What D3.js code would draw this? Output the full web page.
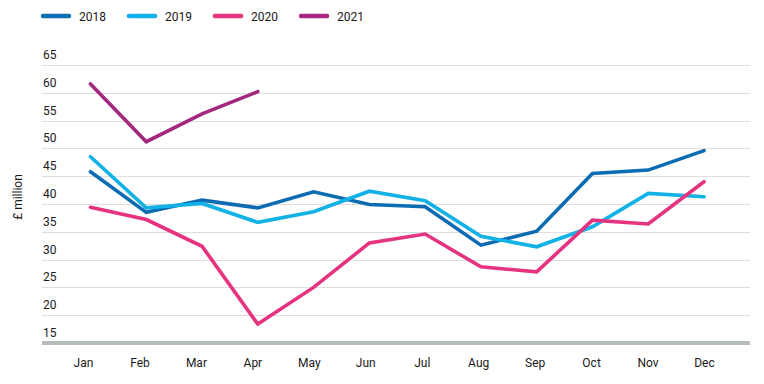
<!DOCTYPE html>
<html>
<head lang="en">
    <meta charset="UTF-8">
    <title>d3</title>
    <script src="https://cdn.jsdelivr.net/npm/d3@7"></script>
    <style>
        body { margin: 0; background: #fff; }
        svg text { font-family: Roboto, "Liberation Sans", sans-serif; fill: #1a1a1a; }
        .grid line { stroke: #dedede; stroke-width: 1; }
        .series { fill: none; stroke-width: 3.6; stroke-linejoin: miter; stroke-linecap: round; }
    </style>
</head>
<body>
<svg width="764" height="384"></svg>
<script>
    var months = ["Jan","Feb","Mar","Apr","May","Jun","Jul","Aug","Sep","Oct","Nov","Dec"];
    var years = ["2018","2019","2020","2021"];
    var colors = ["#0b6bb3","#12b1e6","#e6337f","#a3287f"];
    var v2018 = [45.8, 38.5, 40.7, 39.3, 42.2, 39.9, 39.5, 32.6, 35.1, 45.5, 46.1, 49.6];
    var v2019 = [48.5, 39.3, 40.1, 36.7, 38.6, 42.3, 40.6, 34.2, 32.3, 35.9, 41.9, 41.3];
    var v2020 = [39.4, 37.2, 32.4, 18.4, 25.0, 33.0, 34.6, 28.7, 27.8, 37.1, 36.4, 44.0];
    var v2021 = [61.6, 51.2, 56.2, 60.2];
    var yTicks = [15, 20, 25, 30, 35, 40, 45, 50, 55, 60, 65];

    var values = [v2018, v2019, v2020, v2021];

    var svg = d3.select("svg");

    var x = d3.scalePoint().domain(months).range([90.5, 704]);
    // month labels sit a little off the data points in the original
    var xLabels = d3.scalePoint().domain(months).range([83, 704]);
    var y = d3.scaleLinear().domain([15, 65]).range([343, 65]);

    // gridlines
    svg.append("g")
        .attr("class", "grid")
        .selectAll("line")
        .data(yTicks.slice(1))
        .enter()
        .append("line")
        .attr("x1", 42)
        .attr("x2", 750)
        .attr("y1", function (d) { return Math.round(y(d)) + 0.5; })
        .attr("y2", function (d) { return Math.round(y(d)) + 0.5; });

    // y tick labels, above their lines
    svg.append("g")
        .selectAll("text")
        .data(yTicks)
        .enter()
        .append("text")
        .attr("x", 43)
        .attr("y", function (d) { return y(d) - 6; })
        .attr("font-size", 12)
        .text(function (d) { return d; });

    // baseline
    svg.append("line")
        .attr("x1", 42)
        .attr("x2", 750)
        .attr("y1", y(15))
        .attr("y2", y(15))
        .attr("stroke", "#b5bcbb")
        .attr("stroke-width", 4);

    // x axis labels
    var xAxis = svg.append("g")
        .attr("transform", "translate(0," + 346 + ")")
        .call(d3.axisBottom(xLabels).tickSize(0).tickPadding(12));
    xAxis.select(".domain").remove();
    xAxis.selectAll("text")
        .attr("font-size", 12)
        .style("font-family", "Roboto, 'Liberation Sans', sans-serif")
        .attr("fill", "#1a1a1a");

    // y axis title
    svg.append("text")
        .attr("transform", "translate(22,197) rotate(-90)")
        .attr("text-anchor", "middle")
        .attr("font-size", 12)
        .text("£ million");

    // lines
    var line = d3.line()
        .x(function (d, i) { return x(months[i]); })
        .y(function (d) { return y(d); });

    svg.append("g")
        .selectAll("path")
        .data(values)
        .enter()
        .append("path")
        .attr("class", "series")
        .attr("stroke", function (d, i) { return colors[i]; })
        .attr("d", line);

    // legend
    var legend = svg.append("g")
        .selectAll("g")
        .data(years)
        .enter()
        .append("g")
        .attr("transform", function (d, i) { return "translate(" + (43 + i * 86) + ",16)"; });

    legend.append("line")
        .attr("x1", 0)
        .attr("x2", 26)
        .attr("stroke", function (d, i) { return colors[i]; })
        .attr("stroke-width", 4.5)
        .attr("stroke-linecap", "round");

    legend.append("text")
        .attr("x", 36)
        .attr("y", 4.5)
        .attr("font-size", 12)
        .text(function (d) { return d; });
</script>
</body>
</html>
